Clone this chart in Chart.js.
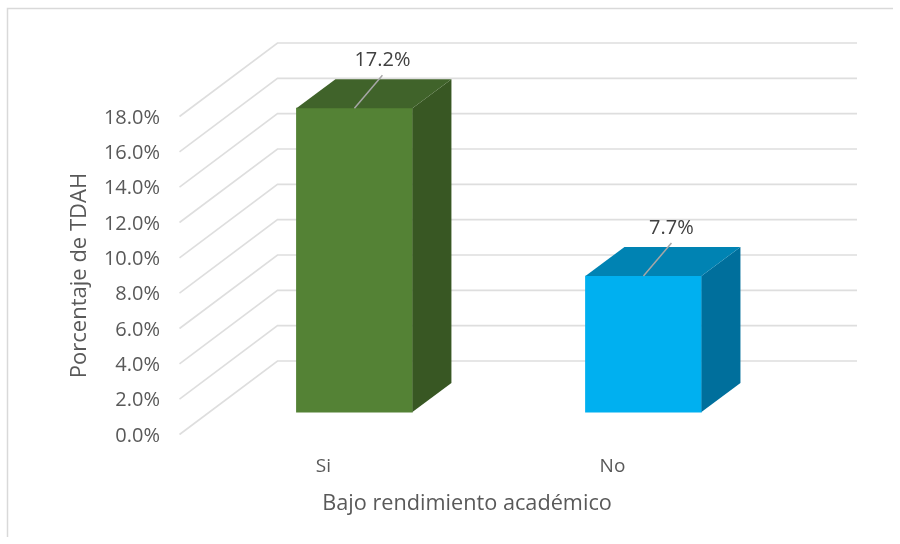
<!DOCTYPE html>
<html>
<head>
<meta charset="utf-8">
<title>TDAH y bajo rendimiento</title>
<script src="https://cdn.jsdelivr.net/npm/chart.js@4"></script>
<style>
    html, body { margin: 0; padding: 0; background: #fff; }
    canvas { display: block; }
</style>
</head>
<body>
<canvas id="chart" width="900" height="544"></canvas>
<script>
// Chart data
const categories = ['Si', 'No'];
const porcentajes = [17.2, 7.7];
const yMax = 18;
const yStep = 2;

// Bar face colours
const frontColors = ['#548235', '#00b0f0'];
const topColors = ['#40632a', '#0083b3'];
const sideColors = ['#385723', '#006f9c'];

// 3D look
const DEPTH_X = 39;
const DEPTH_Y = -29;
const WALL_X = 98;
const WALL_Y = -73.5;
const WALL_RIGHT = 857;

const TEXT_FONT = 'Open Sans';

// Floor and back wall lines, drawn from the y scale ticks
const wallPlugin = {
    id: 'wall',
    beforeDraw(chart) {
        const ctx = chart.ctx;
        ctx.save();
        ctx.fillStyle = '#fff';
        ctx.fillRect(0, 0, chart.width, chart.height);
        // the frame only shows on the top and left
        ctx.strokeStyle = '#d9d9d9';
        ctx.lineWidth = 1.5;
        ctx.beginPath();
        ctx.moveTo(7.5, 537);
        ctx.lineTo(7.5, 8.5);
        ctx.lineTo(893, 8.5);
        ctx.stroke();
        ctx.restore();
    },
    beforeDatasetsDraw(chart) {
        const ctx = chart.ctx;
        const yScale = chart.scales.y;
        ctx.save();
        ctx.strokeStyle = '#dedede';
        ctx.lineWidth = 1.6;
        yScale.ticks.forEach(tick => {
            const py = yScale.getPixelForValue(tick.value);
            ctx.beginPath();
            ctx.moveTo(179.5, py);
            ctx.lineTo(179.5 + WALL_X, py + WALL_Y);
            ctx.lineTo(WALL_RIGHT, py + WALL_Y);
            ctx.stroke();
        });
        ctx.restore();
    }
};

// Side and top faces of the bars plus the value labels with leader lines
const facesPlugin = {
    id: 'faces',
    afterDatasetsDraw(chart) {
        const ctx = chart.ctx;
        const bars = chart.getDatasetMeta(0).data;
        ctx.save();
        bars.forEach((bar, i) => {
            const left = bar.x - bar.width / 2;
            const right = bar.x + bar.width / 2;

            ctx.fillStyle = sideColors[i];
            ctx.beginPath();
            ctx.moveTo(right, bar.y);
            ctx.lineTo(right + DEPTH_X, bar.y + DEPTH_Y);
            ctx.lineTo(right + DEPTH_X, bar.base + DEPTH_Y);
            ctx.lineTo(right, bar.base);
            ctx.closePath();
            ctx.fill();

            ctx.fillStyle = topColors[i];
            ctx.beginPath();
            ctx.moveTo(left, bar.y);
            ctx.lineTo(left + DEPTH_X, bar.y + DEPTH_Y);
            ctx.lineTo(right + DEPTH_X, bar.y + DEPTH_Y);
            ctx.lineTo(right, bar.y);
            ctx.closePath();
            ctx.fill();

            // leader line
            ctx.strokeStyle = '#a6a6a6';
            ctx.lineWidth = 1.5;
            ctx.beginPath();
            ctx.moveTo(bar.x, bar.y);
            ctx.lineTo(bar.x + 28, bar.y - 33);
            ctx.stroke();

            // value label
            ctx.fillStyle = '#404040';
            ctx.font = '20px "' + TEXT_FONT + '"';
            ctx.textAlign = 'center';
            ctx.textBaseline = 'middle';
            ctx.fillText(porcentajes[i].toFixed(1) + '%', bar.x + 28, bar.y - 48);
        });
        ctx.restore();
    }
};

const chart = new Chart(document.getElementById('chart'), {
    type: 'bar',
    data: {
        datasets: [{
            data: porcentajes.map((v, i) => ({ x: i, y: v })),
            backgroundColor: frontColors,
            barThickness: 116,
            clip: false,
            xAxisID: 'x',
            yAxisID: 'yBar'
        }]
    },
    options: {
        responsive: false,
        animation: false,
        events: [],
        layout: { padding: { left: 60, right: 134, top: 116.5, bottom: 0 } },
        plugins: {
            legend: { display: false },
            tooltip: { enabled: false }
        },
        scales: {
            x: {
                type: 'linear',
                offset: false,
                min: -0.645,
                max: 1.424,
                afterBuildTicks: scale => {
                    scale.ticks = categories.map((c, i) => ({ value: i }));
                },
                afterFit: scale => { scale.height = 109.5; },
                grid: { display: false, drawTicks: false },
                border: { display: false },
                ticks: {
                    callback: v => categories[v],
                    color: '#595959',
                    font: { family: TEXT_FONT, size: 19 },
                    padding: 21,
                    labelOffset: -31,
                    maxRotation: 0,
                    autoSkip: false
                },
                title: {
                    display: true,
                    text: 'Bajo rendimiento académico',
                    color: '#595959',
                    font: { family: TEXT_FONT, size: 21.7 },
                    padding: { top: 0, bottom: 27 }
                }
            },
            y: {
                min: 0,
                max: yMax,
                afterFit: scale => { scale.width = 108; },
                grid: { display: false, drawTicks: false },
                border: { display: false },
                ticks: {
                    stepSize: yStep,
                    callback: v => v.toFixed(1) + '%',
                    color: '#595959',
                    font: { family: TEXT_FONT, size: 20 },
                    padding: 8,
                    labelOffset: 1.5
                },
                title: {
                    display: true,
                    text: 'Porcentaje de TDAH',
                    color: '#595959',
                    font: { family: TEXT_FONT, size: 22 },
                    padding: { top: 7, bottom: 0 }
                }
            },
            // same % per pixel as y, but zero sits on the front edge of the floor
            yBar: {
                display: false,
                min: -1.27,
                max: 16.73
            }
        }
    },
    plugins: [wallPlugin, facesPlugin]
});
</script>
</body>
</html>
